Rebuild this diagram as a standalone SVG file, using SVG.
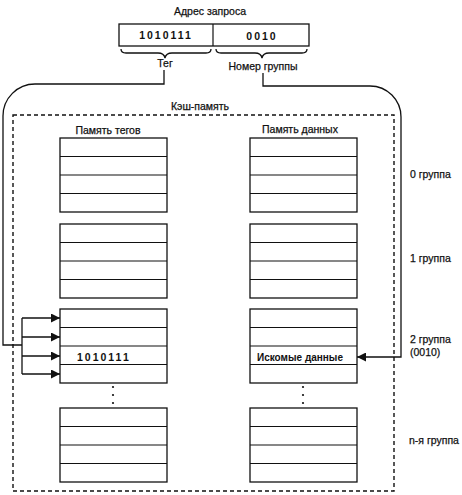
<svg xmlns="http://www.w3.org/2000/svg" width="462" height="495" viewBox="0 0 462 495">
<style>
text{font-family:"Liberation Sans",Arial,sans-serif;font-size:10.5px;fill:#111;stroke:#111;stroke-width:0.25}
.b{font-weight:bold;letter-spacing:2px;font-size:10.5px;stroke-width:0}
.cell{fill:#fff;stroke:#111;stroke-width:1.3}
.row{stroke:#111;stroke-width:1.2}
.ln{fill:none;stroke:#111;stroke-width:1.3}
.dash{fill:none;stroke:#111;stroke-width:1.4;stroke-dasharray:4 3}
.dot{fill:#111}
</style>
<defs>
<marker id="ah" viewBox="0 0 10 10" refX="10" refY="5" markerWidth="9" markerHeight="9" markerUnits="userSpaceOnUse" orient="auto">
<path d="M0,0 L10,5 L0,10 z" fill="#111"/>
</marker>
<g id="tbl">
<rect class="cell" x="0" y="0" width="107" height="74"/>
<line class="row" x1="0" y1="18.5" x2="107" y2="18.5"/>
<line class="row" x1="0" y1="37" x2="107" y2="37"/>
<line class="row" x1="0" y1="55.5" x2="107" y2="55.5"/>
</g>
</defs>

<g id="address">
<text x="210" y="15" text-anchor="middle">Адрес запроса</text>
<rect class="cell" x="119" y="24" width="190" height="22"/>
<line class="row" x1="213" y1="24" x2="213" y2="46"/>
<text class="b" x="166" y="39" text-anchor="middle">1010111</text>
<text class="b" x="262" y="40" text-anchor="middle">0010</text>
<path class="ln" d="M121,49 q0,4 5,4 h32 q6,0 7,5 q1,-5 7,-5 h34 q5,0 5,-4"/>
<path class="ln" d="M216,49 q0,4 5,4 h34 q6,0 7,5 q1,-5 7,-5 h33 q5,0 5,-4"/>
<text x="165" y="67" text-anchor="middle">Тег</text>
<text x="263" y="70" text-anchor="middle">Номер группы</text>
</g>

<g id="cache">
<rect class="dash" x="13" y="115" width="381" height="376"/>
<text x="200" y="110" text-anchor="middle">Кэш-память</text>
<text x="108" y="134" text-anchor="middle">Память тегов</text>
<text x="300" y="133" text-anchor="middle">Память данных</text>
</g>

<g id="tags">
<use href="#tbl" x="60" y="138"/>
<use href="#tbl" x="60" y="224"/>
<use href="#tbl" x="60" y="309"/>
<use href="#tbl" x="60" y="408"/>
<text class="b" x="77" y="361">1010111</text>
<circle class="dot" cx="113" cy="387" r="1.1"/>
<circle class="dot" cx="113" cy="395" r="1.1"/>
<circle class="dot" cx="113" cy="403" r="1.1"/>
</g>

<g id="data">
<use href="#tbl" x="250" y="138"/>
<use href="#tbl" x="250" y="224"/>
<use href="#tbl" x="250" y="309"/>
<use href="#tbl" x="250" y="408"/>
<text x="257" y="361" style="font-weight:bold;font-size:10px;stroke-width:0">Искомые данные</text>
<circle class="dot" cx="303" cy="387" r="1.1"/>
<circle class="dot" cx="303" cy="395" r="1.1"/>
<circle class="dot" cx="303" cy="403" r="1.1"/>
</g>

<g id="groups">
<text x="410" y="178">0 группа</text>
<text x="410" y="262">1 группа</text>
<text x="410" y="343">2 группа</text>
<text x="410" y="356">(0010)</text>
<text x="409" y="444">n-я группа</text>
</g>

<g id="connectors">
<path class="ln" d="M164,70 V84 H35 A32,32 0 0 0 3,116 V345 H22"/>
<path class="ln" d="M22,318 V374"/>
<path class="ln" d="M22,318 H60" marker-end="url(#ah)"/>
<path class="ln" d="M22,337 H60" marker-end="url(#ah)"/>
<path class="ln" d="M22,356 H60" marker-end="url(#ah)"/>
<path class="ln" d="M22,374 H60" marker-end="url(#ah)"/>
<path class="ln" d="M263,73 V86 H370 A31,31 0 0 1 401,117 V357 H357" marker-end="url(#ah)"/>
</g>
</svg>
